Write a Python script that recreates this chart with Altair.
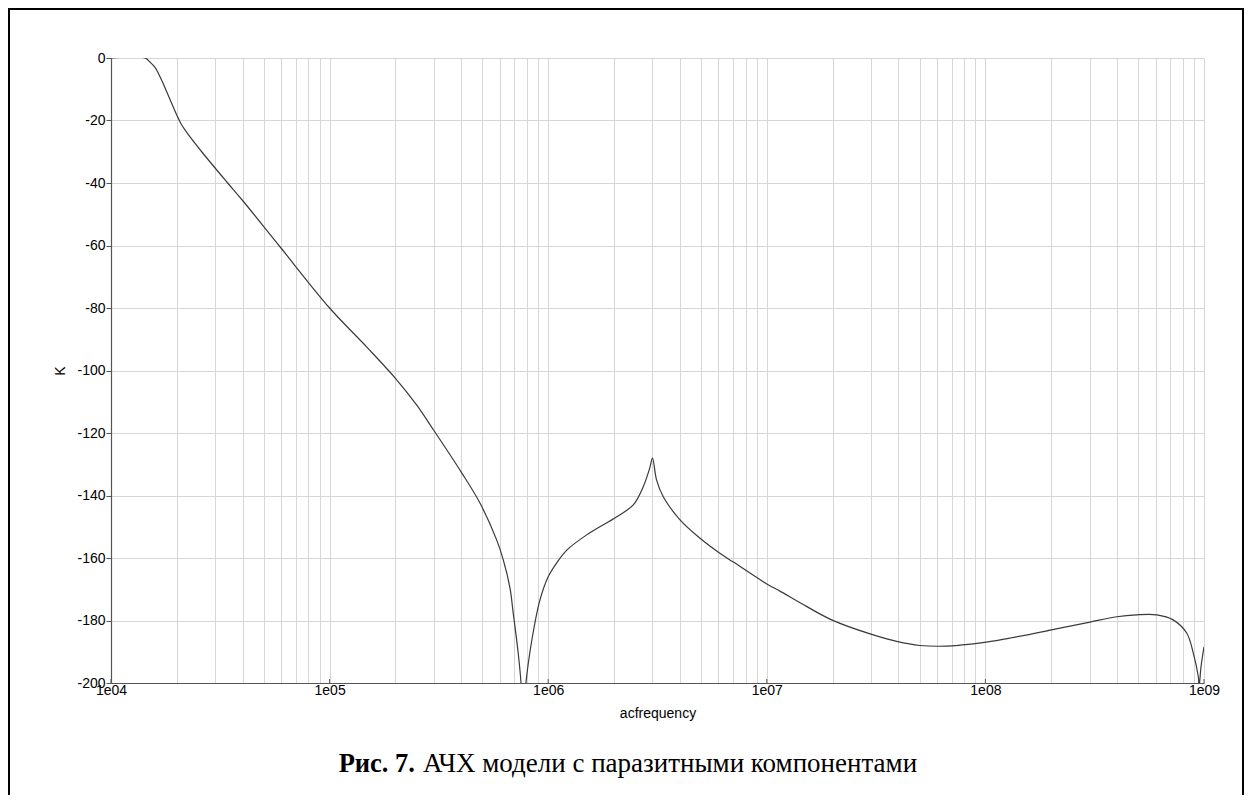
import altair as alt
import pandas as pd

# ---- data ----
freq = [1.0e4, 1.43e4, 1.508e4, 1.59e4, 1.676e4, 1.766e4, 1.862e4, 2.0e4, 2.1e4, 2.22e4,
        2.6e4, 3.38e4, 4.0e4, 5.93e4, 1.0e5, 1.48e5, 2.0e5, 2.5e5, 3.0e5, 4.0e5,
        4.88e5, 5.81e5, 6.23e5, 6.69e5, 6.9e5, 7.28e5, 7.51e5, 7.67e5, 7.91e5, 8.43e5,
        9.17e5, 1.0e6, 1.1e6, 1.22e6, 1.5e6, 2.06e6, 2.45e6, 2.72e6, 2.92e6, 3.0e6,
        3.13e6, 3.36e6, 4.01e6, 4.95e6, 6.1e6, 7.03e6, 1.0e7, 1.149e7, 1.42e7, 1.98e7,
        2.97e7, 3.93e7, 5.02e7, 6.65e7, 7.66e7, 1.01e8, 1.30e8, 1.98e8, 3.01e8, 3.99e8,
        4.92e8, 6.08e8, 7.22e8, 8.33e8, 8.94e8, 9.42e8, 9.5e8, 9.69e8, 1.0e9]
K = [0, 0, -1.3, -3.0, -6.0, -9.5, -13.3, -18.3, -21.3, -23.8,
     -30.0, -39.6, -45.6, -60.4, -80.0, -92.5, -102.5, -111.0, -119.2, -132.5,
     -142.5, -154.2, -160.6, -169.7, -177.0, -190.0, -200.0, -215.0, -200.0, -186.0,
     -173.4, -166.0, -161.3, -157.4, -152.6, -146.8, -143.0, -137.2, -131.0, -128.0,
     -135.0, -140.4, -147.8, -153.7, -158.5, -161.3, -168.3, -170.6, -174.3, -179.8,
     -184.3, -186.7, -188.0, -188.2, -187.9, -186.9, -185.6, -183.1, -180.5, -178.8,
     -178.2, -178.2, -179.8, -184.0, -190.5, -198.0, -201.0, -194.8, -188.4]

decades = [1e4, 1e5, 1e6, 1e7, 1e8, 1e9]
minor_grid = [m * d for d in decades[:-1] for m in range(1, 10)] + [1e9]
y_ticks = list(range(-200, 1, 20))

x_title = "acfrequency"
y_title = "K"
caption_bold = "Рис. 7."
caption_rest = "АЧХ модели с паразитными компонентами"

df = pd.DataFrame({"f": freq, "K": K})
df_dec = pd.DataFrame({"f": decades})
one = pd.DataFrame({"a": [0]})

W, H = 1093, 625
xscale = alt.Scale(type="log", domain=[1e4, 1e9], nice=False)
yscale = alt.Scale(domain=[-200, 0], nice=False)

label_expr = ("abs(log(datum.value)/LN10 - round(log(datum.value)/LN10)) < 0.001 ? "
              "'1e0' + round(log(datum.value)/LN10) : ''")

x_axis = alt.Axis(values=minor_grid, labelExpr=label_expr, ticks=False,
                  labelOverlap=False, labelFlush=False, labelPadding=0,
                  labelBaseline="top", labelFontSize=14, labelColor="#000",
                  labelFont="Liberation Sans",
                  grid=True, gridColor="#d6d6d6", gridWidth=1,
                  domainColor="#555555", domainWidth=1.2,
                  title=x_title, titleFont="Liberation Sans", titleFontSize=14,
                  titleFontWeight="normal", titleColor="#000",
                  titleX=W / 2, titleY=30, titleBaseline="middle",
                  titleAlign="center")

line = alt.Chart(df).mark_line(color="#3a3a3a", strokeWidth=1.2, clip=True,
                               interpolate="catmull-rom").encode(
    x=alt.X("f:Q", scale=xscale, axis=x_axis),
    y=alt.Y("K:Q", scale=yscale,
            axis=alt.Axis(values=y_ticks, tickSize=5, tickColor="#555555",
                          labelExpr="datum.value + ''",
                          labelPadding=1, labelFontSize=14, labelColor="#000",
                          labelFont="Liberation Sans", labelFlush=False,
                          labelOverlap=False,
                          grid=True, gridColor="#d6d6d6", gridWidth=1,
                          domainColor="#555555", domainWidth=1.2,
                          title=y_title, titleFont="Liberation Sans", titleFontSize=14,
                          titleFontWeight="normal", titleColor="#000",
                          titleAngle=-90, titleX=-51, titleY=H / 2,
                          titleBaseline="middle", titleAlign="center")),
)

xticks = alt.Chart(df_dec).mark_rule(color="#555555", strokeWidth=1).encode(
    x=alt.X("f:Q", scale=xscale, axis=x_axis),
    y=alt.value(H),
    y2=alt.value(H - 4),
)

frame_left = alt.Chart(one).mark_rule(color="#000", strokeWidth=2).encode(
    x=alt.value(-102), y=alt.value(-49), y2=alt.value(740))
frame_top = alt.Chart(one).mark_rule(color="#000", strokeWidth=2).encode(
    x=alt.value(-103), x2=alt.value(1133), y=alt.value(-49))
frame_right = alt.Chart(one).mark_rule(color="#000", strokeWidth=2).encode(
    x=alt.value(1132), y=alt.value(-49), y2=alt.value(740))

cap1 = alt.Chart(one).mark_text(font="Liberation Serif", fontSize=26.5, fontWeight="bold",
                                align="right", baseline="alphabetic", color="#000").encode(
    x=alt.value(304), y=alt.value(714), text=alt.value(caption_bold))
cap2 = alt.Chart(one).mark_text(font="Liberation Serif", fontSize=27, fontWeight="normal",
                                align="left", baseline="alphabetic", color="#000").encode(
    x=alt.value(312), y=alt.value(714), text=alt.value(caption_rest))

chart = alt.layer(line, xticks, frame_left, frame_top, frame_right, cap1, cap2).properties(
    width=W, height=H,
    padding={"left": 103, "top": 50, "right": 40, "bottom": 112},
    autosize=alt.AutoSizeParams(type="none"),
).configure_view(stroke="#808080", strokeWidth=1.2).configure(background="white")

chart.save("out.html", embed_options={"renderer": "svg", "actions": False})
